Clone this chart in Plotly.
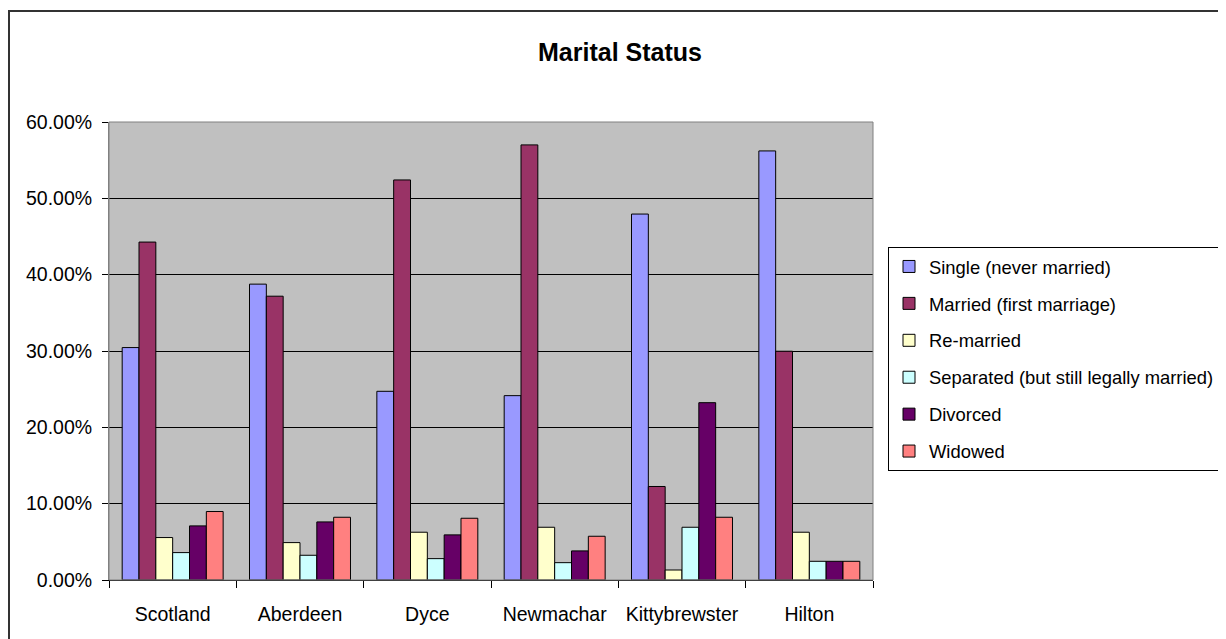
"""Marital status by area: grouped bar chart."""
import plotly.graph_objects as go

# Areas on the category axis.
AREAS = ["Scotland", "Aberdeen", "Dyce", "Newmachar", "Kittybrewster", "Hilton"]

# Shares per status, one value per area (fractions of 1).
SINGLE = [0.3045, 0.3876, 0.2472, 0.2415, 0.4794, 0.5621]
MARRIED = [0.4427, 0.3718, 0.5241, 0.5700, 0.1225, 0.2997]
REMARRIED = [0.0556, 0.0490, 0.0626, 0.0691, 0.0131, 0.0626]
SEPARATED = [0.0359, 0.0324, 0.0280, 0.0227, 0.0691, 0.0245]
DIVORCED = [0.0709, 0.0761, 0.0591, 0.0381, 0.2323, 0.0245]
WIDOWED = [0.0897, 0.0822, 0.0809, 0.0573, 0.0822, 0.0245]

SERIES = [
    ("Single (never married)", SINGLE, "#9999FF"),
    ("Married (first marriage)", MARRIED, "#993366"),
    ("Re-married", REMARRIED, "#FFFFCC"),
    ("Separated (but still legally married)", SEPARATED, "#CCFFFF"),
    ("Divorced", DIVORCED, "#660066"),
    ("Widowed", WIDOWED, "#FF8080"),
]

# the page body keeps its default 8px margin, so the figure is shrunk by it
OFF = 8
W, H = 1226 - OFF, 639 - OFF
L, T = 109 - OFF, 122 - OFF
R, B = W - (873 - OFF), H - (580 - OFF)
PW, PH = W - L - R, H - T - B

FONT = "Liberation Sans, Arial, sans-serif"

fig = go.Figure()
for i, (name, vals, color) in enumerate(SERIES):
    fig.add_trace(
        go.Bar(
            x=AREAS,
            y=vals,
            name=name,
            legendgroup=str(i),
            marker=dict(color=color, line=dict(color="black", width=1)),
        )
    )


def px_x(x):
    # screen px -> paper x
    return (x - OFF - L) / PW


def px_y(y):
    # screen px -> paper y
    return (H - B - (y - OFF)) / PH


fig.update_layout(
    width=W,
    height=H,
    margin=dict(l=L, r=R, t=T, b=B, autoexpand=False),
    paper_bgcolor="white",
    plot_bgcolor="#C0C0C0",
    barmode="group",
    bargap=0.207,
    bargroupgap=0,
    font=dict(family=FONT, size=19.5, color="black"),
    title=dict(
        text="<b>Marital Status</b>",
        font=dict(family=FONT, size=25, color="black"),
        x=(620 - OFF) / W,
        xanchor="center",
        xref="container",
        y=1 - (52 - OFF) / H,
        yanchor="middle",
        yref="container",
    ),
    xaxis=dict(
        showgrid=False,
        ticks="outside",
        tickson="boundaries",
        ticklen=7,
        tickcolor="black",
        showline=True,
        linecolor="black",
        linewidth=1,
        ticklabelstandoff=17,
    ),
    yaxis=dict(
        range=[0, 0.6],
        dtick=0.1,
        tickformat=".2%",
        showgrid=True,
        gridcolor="black",
        gridwidth=1,
        zeroline=False,
        ticks="outside",
        ticklen=6,
        tickcolor="black",
        showline=True,
        linecolor="#808080",
        linewidth=1,
        ticklabelstandoff=6,
    ),
    legend=dict(
        x=px_x(888),
        y=px_y(247),
        xanchor="left",
        yanchor="top",
        bgcolor="white",
        bordercolor="black",
        borderwidth=1,
        traceorder="grouped",
        tracegroupgap=10,
        font=dict(family=FONT, size=18.4),
        itemwidth=30,
    ),
    showlegend=True,
    shapes=[
        # plot area frame
        dict(type="rect", xref="paper", yref="paper", x0=0, x1=1, y0=0, y1=1,
             line=dict(color="#808080", width=1), layer="above"),
        # outer chart border (right and bottom edges fall off the page)
        dict(type="rect", xref="paper", yref="paper",
             x0=px_x(9), x1=px_x(1260), y0=px_y(680), y1=px_y(11),
             line=dict(color="#333333", width=2)),
    ],
)

fig.write_html("out.html")
